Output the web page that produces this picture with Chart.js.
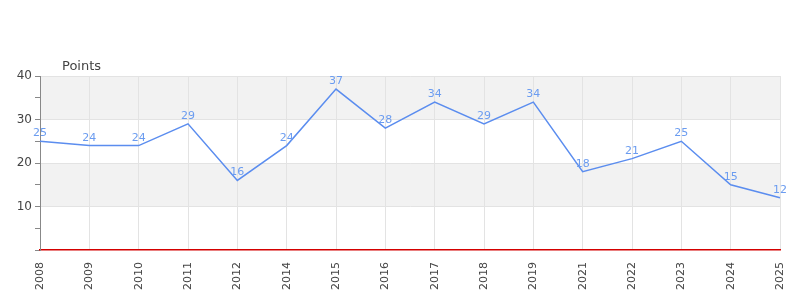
<!DOCTYPE html>
<html><head><meta charset="utf-8">
<script src="https://cdn.jsdelivr.net/npm/chart.js@4/dist/chart.umd.min.js"></script>
<style>html,body{margin:0;padding:0;background:#fff}#wrap{width:800px;height:300px}</style>
</head><body><div id="wrap"><canvas id="c" width="800" height="300"></canvas></div>
<script>
const years = ['2008','2009','2010','2011','2012','2014','2015','2016','2017','2018','2019','2021','2022','2023','2024','2025'];
const points = [25,24,24,29,16,24,37,28,34,29,34,18,21,25,15,12];
const yTickLabels = [10,20,30,40];
const bands = [[10,20],[30,40]];
const axisTitle = 'Points';

const FONT = '"DejaVu Sans", sans-serif';

const bgPlugin = {
  id:'bands',
  beforeDraw(chart){
    const {ctx, chartArea:a, scales:{y}} = chart;
    ctx.save();
    ctx.fillStyle = '#f2f2f2';
    bands.forEach(([lo,hi])=>{
      const t = y.getPixelForValue(hi), b = y.getPixelForValue(lo);
      ctx.fillRect(a.left, t, a.right-a.left, b-t);
    });
    ctx.restore();
  }
};
const labelPlugin = {
  id:'vlabels',
  afterDatasetsDraw(chart){
    const {ctx} = chart;
    const meta = chart.getDatasetMeta(0);
    ctx.save();
    ctx.font = '11px ' + FONT;
    ctx.fillStyle = '#6b9cf0';
    ctx.textAlign = 'center';
    ctx.textBaseline = 'alphabetic';
    meta.data.forEach((p,i)=>{
      ctx.fillText(String(points[i]), p.x, p.y - 5);
    });
    ctx.font = '13px ' + FONT;
    ctx.fillStyle = '#444';
    ctx.textAlign = 'left';
    ctx.fillText(axisTitle, 62, 70);
    ctx.restore();
  }
};

new Chart(document.getElementById('c'), {
  type:'line',
  data:{ labels: years, datasets:[{
    data: points, borderColor:'#5b8def', borderWidth:1.5, pointRadius:0, tension:0, fill:false
  }]},
  options:{
    responsive:false, animation:false,
    layout:{padding:{top:76, right:20, left:0, bottom:0}},
    plugins:{legend:{display:false}, tooltip:{enabled:false}},
    scales:{
      x:{
        offset:false,
        grid:{color:'#e3e3e3', drawTicks:false},
        border:{color:'#d40000', width:1.5},
        ticks:{color:'#444', font:{family:FONT, size:11}, maxRotation:90, minRotation:90, padding:12, autoSkip:false},
        afterFit(s){ s.height = 50; s.paddingRight = 0; s.paddingLeft = 0; }
      },
      y:{
        min:0, max:40,
        grid:{
          color: c => (c.tick && c.tick.value % 10 === 0 && c.tick.value !== 0) ? '#e3e3e3' : 'rgba(0,0,0,0)',
          tickColor:'#888', tickLength:5
        },
        border:{color:'#888', width:1},
        ticks:{stepSize:5, color:'#444', font:{family:FONT, size:12}, padding:3,
          callback: v => yTickLabels.includes(v) ? String(v) : ''},
        afterFit(s){ s.width = 40; s.paddingTop = 0; s.paddingBottom = 0; }
      }
    }
  },
  plugins:[bgPlugin, labelPlugin]
});
</script></body></html>
